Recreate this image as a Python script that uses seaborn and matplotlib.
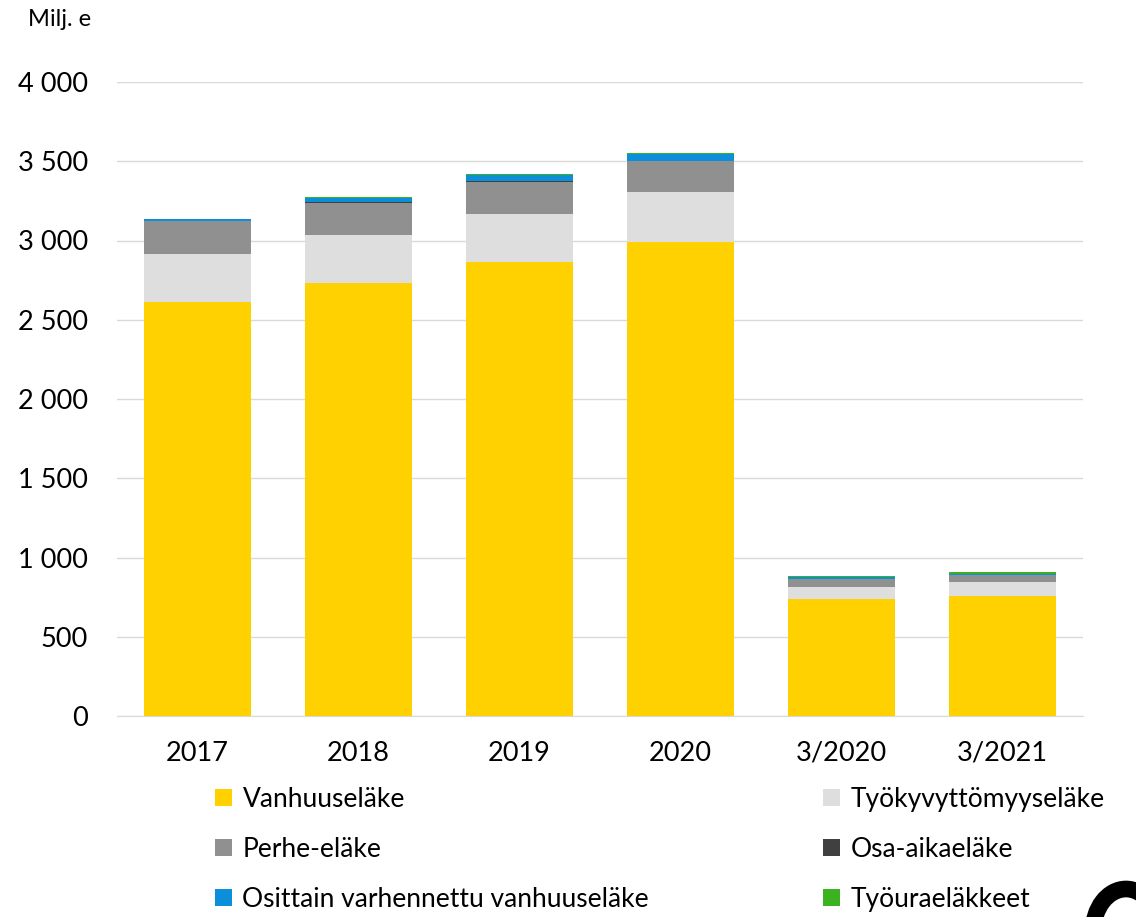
import numpy as np
import pandas as pd
import matplotlib.pyplot as plt
import seaborn as sns
from matplotlib.patches import Patch, Arc
from matplotlib.ticker import FuncFormatter

periods = ["2017", "2018", "2019", "2020", "3/2020", "3/2021"]
vanhuus = [2610, 2730, 2865, 2990, 740, 760]
tyokyvyttomyys = [305, 305, 305, 315, 76, 84]
perhe = [208, 200, 200, 195, 48, 46]
osa_aika = [2, 5, 3, 3, 1, 1]
osittain = [10, 25, 38, 42, 10, 8]
tyoura = [0, 8, 10, 8, 10, 10]

series = [
    ("Vanhuuseläke", vanhuus, "#ffd100"),
    ("Työkyvyttömyyseläke", tyokyvyttomyys, "#dedede"),
    ("Perhe-eläke", perhe, "#909090"),
    ("Osa-aikaeläke", osa_aika, "#404040"),
    ("Osittain varhennettu vanhuuseläke", osittain, "#0b8fdb"),
    ("Työuraeläkkeet", tyoura, "#3bb321"),
]

sns.set_style("white")
plt.rcParams['font.family'] = ['Lato', 'DejaVu Sans']
plt.rcParams['text.color'] = 'black'

fig = plt.figure(figsize=(11.36, 9.17), dpi=100)
ax = fig.add_axes([117 / 1136, 1 - 716 / 917, 966 / 1136, 634 / 917])

# stacked bars: draw cumulative totals from the top layer down
cum = np.cumsum([s[1] for s in series], axis=0)
for i in range(len(series) - 1, -1, -1):
    df = pd.DataFrame({"period": periods, "value": cum[i]})
    sns.barplot(data=df, x="period", y="value", color=series[i][2],
                width=0.67, saturation=1, linewidth=0, ax=ax, zorder=2)

ax.set_ylim(0, 4000)
ax.set_xlim(-0.5, 5.5)
ax.set_yticks(range(0, 4001, 500))
ax.yaxis.set_major_formatter(FuncFormatter(lambda v, p: f"{int(v):,}".replace(",", " ")))
ax.grid(axis="y", color="#d9d9d9", linewidth=1, zorder=0)
ax.set_axisbelow(True)
ax.set_xlabel("")
ax.set_ylabel("")
for side in ["top", "right", "left"]:
    ax.spines[side].set_visible(False)
ax.spines["bottom"].set_color("#d9d9d9")
ax.tick_params(axis="both", length=0, labelsize=19.5, labelcolor="black")
ax.tick_params(axis="x", pad=18)
ax.tick_params(axis="y", pad=21)

fig.text(28 / 1136, 1 - 20 / 917, "Milj. e", fontsize=17, va="center", ha="left")

order = [0, 2, 4, 1, 3, 5]
handles = [Patch(facecolor=series[i][2], edgecolor="none") for i in order]
labels = [series[i][0] for i in order]
fig.legend(handles, labels, ncol=2, frameon=False, fontsize=19,
           loc="upper left", bbox_to_anchor=(191 / 1136, 1 - 763 / 917),
           handlelength=0.65, handleheight=0.65, handletextpad=0.4,
           labelspacing=0.95, columnspacing=6.6)

# fragment of the logo in the lower right corner
fig.patches.append(Arc((1126 / 1136, 1 - 932 / 917), 66 / 1136, 86 / 917,
                       theta1=0, theta2=180, linewidth=12, color="black",
                       transform=fig.transFigure, figure=fig))

plt.savefig("out.png", dpi=100)
